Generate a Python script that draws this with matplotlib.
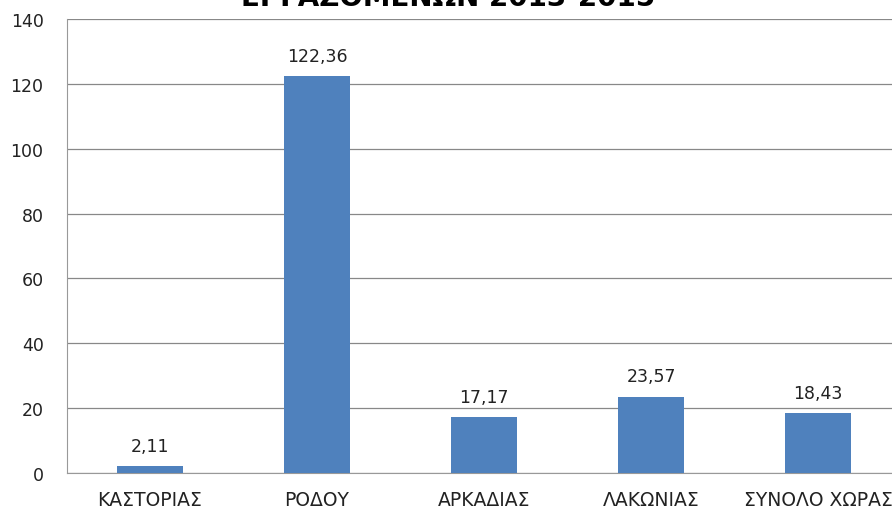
import matplotlib.pyplot as plt

categories = ['ΚΑΣΤΟΡΙΑΣ', 'ΡΟΔΟΥ', 'ΑΡΚΑΔΙΑΣ', 'ΛΑΚΩΝΙΑΣ', 'ΣΥΝΟΛΟ ΧΩΡΑΣ']
values = [2.11, 122.36, 17.17, 23.57, 18.43]
title = 'ΕΡΓΑΖΟΜΕΝΩΝ 2013-2015'

plt.rcParams['font.family'] = ['DejaVu Sans']

fig = plt.figure(figsize=(8.92, 5.10), dpi=100)
ax = fig.add_axes([66.5 / 892, 36 / 510, 835 / 892, 454 / 510])

x = range(len(categories))
bars = ax.bar(x, values, width=0.4, color='#4F81BD', zorder=3)
for b, v in zip(bars, values):
    ax.annotate(f'{v:.2f}'.replace('.', ','), (b.get_x() + b.get_width() / 2, v),
                xytext=(0, 11), textcoords='offset points', ha='center', va='baseline',
                fontsize=12.5, color='#222222')

ax.set_xlim(-0.5, 4.5)
ax.set_ylim(0, 140)
ax.set_yticks(range(0, 141, 20))
ax.set_xticks(list(x))
ax.set_xticklabels(categories)
ax.tick_params(axis='both', length=0, labelsize=12.5, colors='#222222')
ax.tick_params(axis='x', pad=12, labelsize=13.5)
ax.tick_params(axis='y', pad=16.5)
ax.grid(axis='y', color='#888888', linewidth=0.9, zorder=0)
for side in ['top', 'right']:
    ax.spines[side].set_visible(False)
ax.spines['left'].set_color('#999999')
ax.spines['bottom'].set_color('#999999')

# the title sits mostly above the picture, as in the reference
fig.text(448 / 892, 1 - 6.5 / 510, title, ha='center', va='baseline', fontsize=20,
         fontweight='bold')

fig.savefig('out.png', dpi=100)
